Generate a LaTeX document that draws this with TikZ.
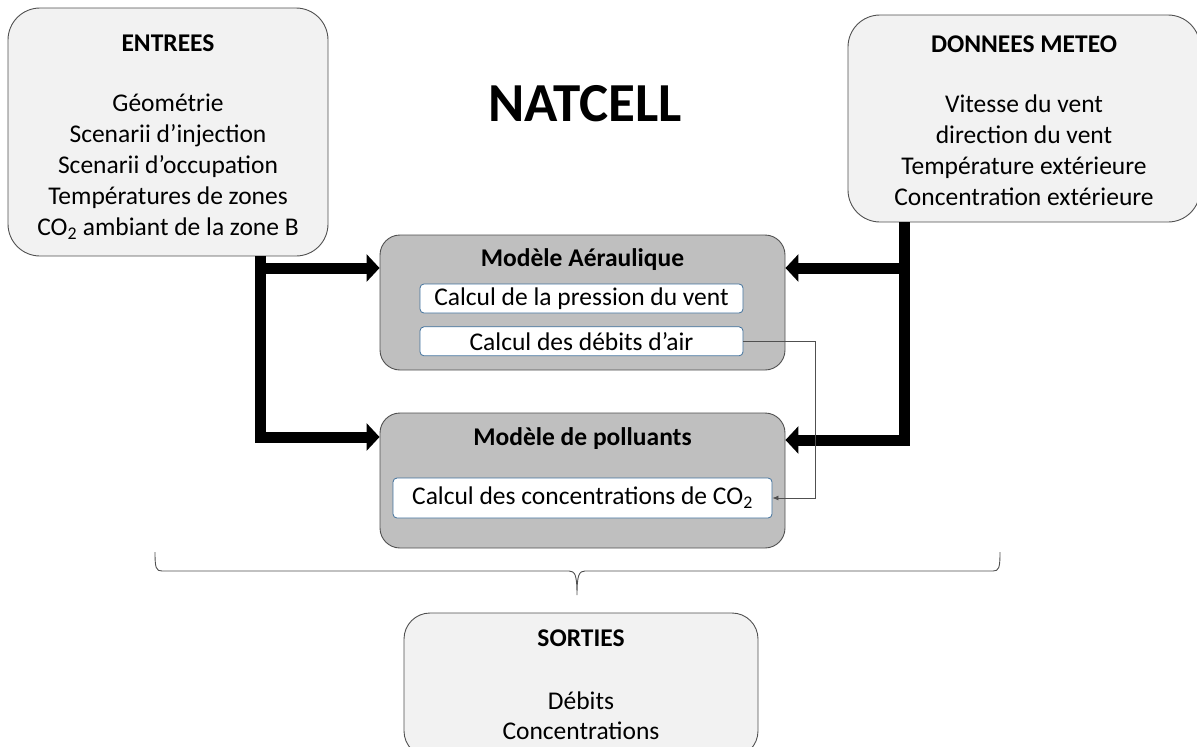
\documentclass[tikz,border=0pt]{standalone}
\usepackage{fontspec}
\setmainfont{Carlito}
\usepackage{xcolor}
\usetikzlibrary{arrows.meta, positioning}

\definecolor{boxgray}{HTML}{F2F2F2}
\definecolor{modelgray}{HTML}{BFBFBF}
\definecolor{calcblue}{HTML}{41719C}
\definecolor{edgegray}{HTML}{505050}

\begin{document}
\begin{tikzpicture}[
    x=1pt, y=-1pt,
    databox/.style={rectangle, draw=edgegray, fill=boxgray, line width=0.9pt,
                    rounded corners=32pt, align=center,
                    font=\fontsize{25.5}{31}\selectfont},
    datatext/.style={align=center, font=\fontsize{25.5}{31}\selectfont},
    modelbox/.style={rectangle, draw=edgegray, fill=modelgray, line width=0.9pt,
                     rounded corners=20pt, minimum width=405pt, minimum height=135pt},
    modeltitle/.style={font=\fontsize{25.5}{30}\selectfont\bfseries},
    calcbox/.style={rectangle, draw=calcblue, fill=white, line width=0.8pt,
                    rounded corners=4pt, inner sep=0pt,
                    font=\fontsize{25.5}{30}\selectfont},
    feed/.style={line width=11pt, -{Triangle[length=13pt, width=27pt]}},
    link/.style={draw=edgegray, line width=0.8pt, -{Latex[length=6pt, width=5pt]}},
]
  \useasboundingbox (0,0) rectangle (1197,747);

  % title
  \node[font=\fontsize{55}{62}\selectfont\bfseries] (natcell) at (585,104) {NATCELL};

  % inputs
  \node[databox, minimum width=320pt, minimum height=248pt] (entrees) at (168,132) {};
  \node[datatext] (entreestext) at (168,137)
    {\textbf{ENTREES}\\[29pt]
     Géométrie\\
     Scenarii d’injection\\
     Scenarii d’occupation\\
     Températures de zones\\
     CO\textsubscript{2} ambiant de la zone B};
  \node[databox, minimum width=352pt, minimum height=207pt] (meteo) at (1024,118.5) {};
  \node[datatext] (meteotext) at (1024,120.5)
    {\textbf{DONNEES METEO}\\[29pt]
     Vitesse du vent\\
     direction du vent\\
     Température extérieure\\
     Concentration extérieure};

  % models
  \node[modelbox] (aero) at (582.5,302.5) {};
  \node[modeltitle] (aerotitle) at (582.5,260) {Modèle Aéraulique};
  \node[calcbox, minimum width=323pt, minimum height=29pt] (pression) at (581.5,298.5)
    {Calcul de la pression du vent};
  \node[calcbox, minimum width=323pt, minimum height=29pt, below=13pt of pression] (debits)
    {Calcul des débits d’air};

  \node[modelbox] (poll) at (582.5,480.5) {};
  \node[modeltitle] (polltitle) at (582.5,439) {Modèle de polluants};
  \node[calcbox, minimum width=379pt, minimum height=40pt] (co2) at (582.5,498)
    {Calcul des concentrations de CO\textsubscript{2}};

  % outputs
  \node[databox, rounded corners=26pt, minimum width=354pt, minimum height=144pt,
        font=\fontsize{25.5}{30}\selectfont] (sorties) at (581,685)
    {\textbf{SORTIES}\\[33pt]
     Débits\\
     Concentrations};

  % thick feeds
  \coordinate (lbus) at (260,0);
  \coordinate (rbus) at (904,0);
  \draw[feed] (entrees.south -| lbus) |- (aero.west |- 0,268);
  \draw[feed] (entrees.south -| lbus) |- (poll.west |- 0,437);
  \draw[feed] (meteo.south -| rbus) |- (aero.east |- 0,268);
  \draw[feed] (meteo.south -| rbus) |- (poll.east |- 0,440);

  % airflow to pollutant model
  \coordinate (turn) at (815,0);
  \draw[link] (debits.east) -- (debits.east -| turn) -- (co2.east -| turn) -- (co2.east);

  % brace over the two models
  \draw[edgegray, line width=0.9pt]
    (155,552) .. controls (155,568) and (156,571) .. (162,571) -- (569,571)
    .. controls (575,571) and (577,575) .. (577,595)
    .. controls (577,575) and (579,571) .. (585,571) -- (993,571)
    .. controls (999,571) and (1000,568) .. (1000,552);
\end{tikzpicture}
\end{document}
